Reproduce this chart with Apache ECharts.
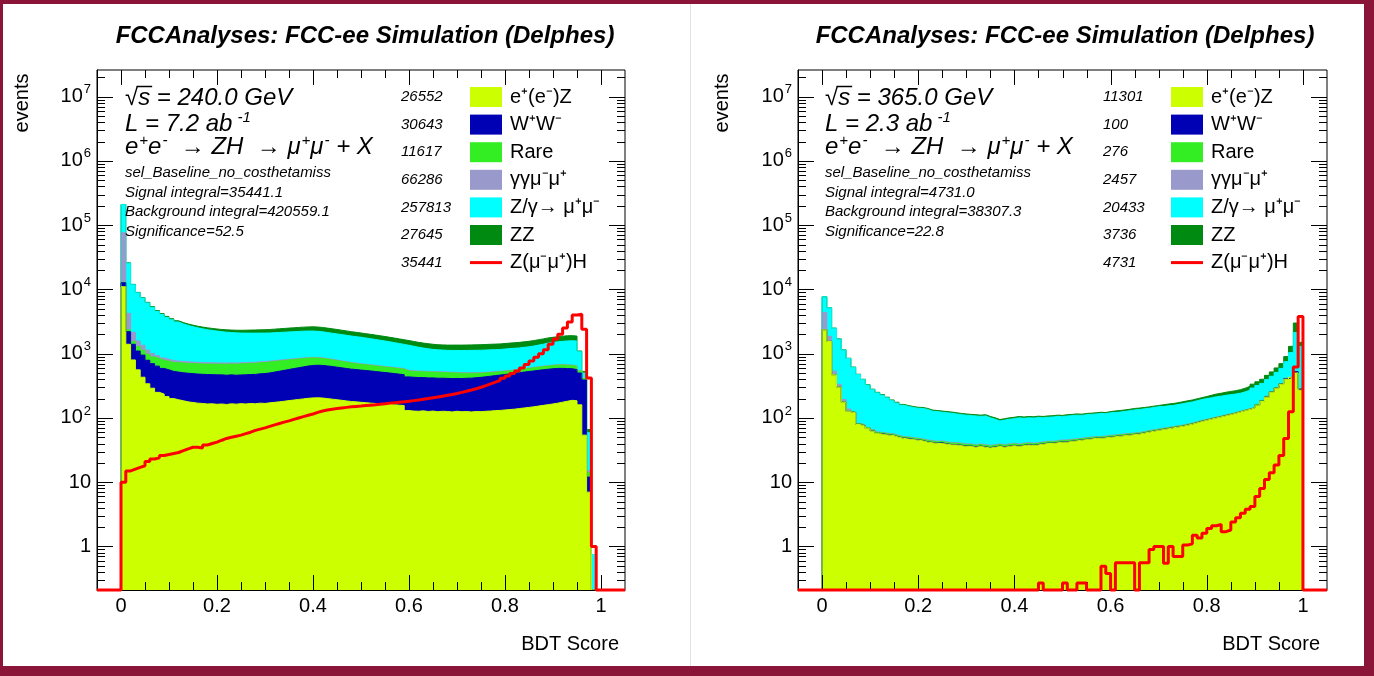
<!DOCTYPE html>
<html>
<head>
<meta charset="utf-8">
<title>BDT score</title>
<script src="https://cdn.jsdelivr.net/npm/echarts@6/dist/echarts.min.js"></script>
<style>
  html, body { margin: 0; padding: 0; background: #8a1538; }
  #sheet { position: absolute; left: 3px; top: 4px; width: 1361px; height: 662px; background: #fff; }
  #divider { position: absolute; left: 690px; top: 4px; width: 1px; height: 662px; background: #e2e2e2; }
  #chart { position: absolute; left: 0; top: 0; width: 1374px; height: 676px; }
</style>
</head>
<body>
<div id="sheet"></div>
<div id="divider"></div>
<div id="chart"></div>
<script>
// 100 bins of 0.01 on [0,1]
var BIN_LO = 0, BIN_W = 0.01;
var X_MIN = -0.05, X_MAX = 1.05;
var Y_MIN = 0.21, Y_MAX = 2.6e7;

var xTicks = [0, 0.2, 0.4, 0.6, 0.8, 1];
var xMinorTicks = [0.05, 0.1, 0.15, 0.25, 0.3, 0.35, 0.45, 0.5, 0.55, 0.65, 0.7, 0.75, 0.85, 0.9, 0.95];
var yTicks = [1, 10, 100, 1000, 1e4, 1e5, 1e6, 1e7];

var procNames = ['e⁺(e⁻)Z', 'W⁺W⁻', 'Rare', 'γγμ⁻μ⁺', 'Z/γ→ μ⁺μ⁻', 'ZZ', 'Z(μ⁻μ⁺)H'];
var procColors = ['#ccff00', '#0000b4', '#33ee22', '#9999cc', '#00ffff', '#008a12', '#ff0000'];

var yieldsL = [26552, 30643, 11617, 66286, 257813, 27645, 35441];
var yieldsR = [11301, 100, 276, 2457, 20433, 3736, 4731];

// rich text: {n|...} normal, {s|...} superscript
var infoL = ['{n|√s = 240.0 GeV}', '{n|L = 7.2 ab}{s| -1}', '{n|e}{s|+}{n|e}{s|-}{n|  → ZH  → μ}{s|+}{n|μ}{s|-}{n| + X}'];
var infoR = ['{n|√s = 365.0 GeV}', '{n|L = 2.3 ab}{s| -1}', '{n|e}{s|+}{n|e}{s|-}{n|  → ZH  → μ}{s|+}{n|μ}{s|-}{n| + X}'];
var statsL = ['sel_Baseline_no_costhetamiss', 'Signal integral=35441.1', 'Background integral=420559.1', 'Significance=52.5'];
var statsR = ['sel_Baseline_no_costhetamiss', 'Signal integral=4731.0', 'Background integral=38307.3', 'Significance=22.8'];

// ---- 240 GeV ----
var eezL = [11000,1400,800,560,430,340,290,250,235,215,
  200,192,185,178,174,170,168,165,166,163,
  165,162,166,164,167,165,168,166,170,168,
  172,175,178,182,186,190,194,198,202,205,
  206,204,200,196,192,188,184,180,178,175,
  173,170,168,166,164,162,160,158,156,130,
  128,127,129,126,128,125,127,126,124,127,
  125,126,124,126,125,127,128,130,131,133,
  135,137,140,143,146,149,153,157,161,165,
  170,176,182,188,185,160,54,7,0,0];
var wwL = [1700,800,600,540,520,450,410,390,355,345,
  330,325,320,318,315,312,310,308,306,305,
  303,300,302,298,300,304,306,310,316,322,
  330,342,355,368,382,396,410,425,440,450,
  455,452,445,436,425,414,404,395,388,380,
  375,368,360,352,345,338,330,322,315,305,
  302,298,296,294,292,290,288,287,286,285,
  285,288,292,297,303,310,318,326,334,342,
  350,358,366,374,382,390,398,405,412,418,
  420,415,405,395,380,340,336,5,0,0];
var rareL = [200,150,150,180,180,190,190,200,200,200,
  200,205,210,210,212,214,215,216,218,218,
  220,222,224,225,228,230,232,234,236,238,
  240,240,238,235,232,228,222,216,210,204,
  196,188,180,172,164,156,148,140,134,128,
  124,120,118,115,112,110,108,106,104,102,
  100,100,99,98,98,97,96,94,92,90,
  86,82,78,74,70,66,62,60,58,56,
  56,57,58,60,62,64,66,68,70,72,
  74,75,75,74,72,40,20,2,0,0];
var ggmmL = [63000,1900,600,300,220,160,120,90,70,60,
  50,45,42,40,38,36,35,34,33,32,
  31,30,29,28,28,27,26,25,25,24,
  24,23,22,22,21,21,20,20,19,19,
  19,18,18,17,17,16,16,16,15,15,
  15,14,14,14,13,13,13,13,12,12,
  12,12,12,12,11,11,11,11,11,11,
  11,11,11,11,11,11,11,11,10,10,
  10,10,10,10,10,10,10,10,10,10,
  10,10,10,10,10,10,5,1,0,0];
var zgL = [132600,21500,9670,7270,6000,5020,4260,3640,3210,2850,
  2590,2350,2150,2010,1890,1790,1710,1640,1580,1530,
  1480,1450,1410,1395,1370,1365,1358,1355,1343,1338,
  1334,1340,1347,1353,1359,1365,1374,1381,1379,1372,
  1349,1328,1292,1259,1232,1206,1178,1149,1125,1102,
  1068,1038,1005,973,941,907,874,841,808,801,
  763,723,686,664,637,625,616,608,611,609,
  613,616,621,621,623,626,629,629,631,641,
  649,653,656,668,680,702,733,765,807,830,
  856,879,908,923,923,520,85,44,0.75,0];
var zzL = [1500,250,180,150,150,140,130,130,130,130,
  130,135,140,145,150,155,160,165,170,175,
  180,190,200,210,220,230,240,250,260,270,
  280,290,300,310,320,330,340,350,360,370,
  375,370,365,360,350,340,330,320,310,300,
  295,290,285,280,275,270,265,260,255,250,
  245,240,238,236,234,232,232,234,236,238,
  240,242,244,246,248,250,252,254,256,258,
  260,265,270,275,280,285,290,295,300,305,
  310,315,320,320,310,30,30,7,0,0];
var sigL = [10,15,16,17,18,21,23,24,26,27,
  28,29,31,33,35,35,34,38,40,42,
  45,48,50,52,54,57,60,64,67,70,
  74,78,82,86,90,95,100,105,110,115,
  122,128,133,137,140,143,146,149,151,153,
  156,158,160,163,166,170,173,176,179,182,
  186,190,195,200,206,212,218,225,232,240,
  250,260,272,285,300,318,338,360,385,415,
  450,490,540,600,680,770,880,1000,1150,1400,
  1700,2000,2500,3100,4000,4100,2400,420,1,0];

// ---- 365 GeV ----
var eezR = [2350,1550,470,300,175,125,120,79,74,68,
  62,57,55,54,53,50,48,47,46,45,
  44,42,41,40,40,39,38,38,37,36,
  36,35,36,35,34,35,36,35,36,37,
  36,37,38,37,38,39,40,40,41,42,
  42,43,44,45,46,47,48,48,49,50,
  51,52,53,54,55,56,58,60,62,64,
  66,68,70,72,74,77,80,84,88,92,
  96,100,104,108,113,118,124,130,136,143,
  155,180,210,250,290,330,400,430,500,270];
var wwR = [5,3,1,1,0.5,1,0.5,0.5,1,0.5,
  0.5,0.5,1,0.5,0.5,0.5,0.5,1,0.5,0.5,
  0.5,0.5,0.5,0.5,1,0.5,0.5,0.5,0.5,0.5,
  0.5,0.5,0.5,0.5,0.5,0.5,0.5,0.5,0.5,0.5,
  0.5,0.5,0.5,0.5,0.5,0.5,0.5,0.5,0.5,0.5,
  0.5,0.5,0.5,0.5,0.5,0.5,0.5,0.5,0.5,0.5,
  0.5,0.5,0.5,0.5,0.5,0.5,0.5,0.5,0.5,0.5,
  0.5,0.5,0.5,0.5,0.5,0.5,0.5,0.5,1,0.5,
  0.5,0.5,0.5,1,0.5,0.5,0.5,0.5,0.5,0.5,
  2,2,2,2,2,5,8,5,25,10];
var rareR = [20,10,4,3,3,2,2,2,2,2,
  2,2,2,2,2,2,2,2,2,2,
  2,2,2,2,2,2,2,2,2,2,
  2,2,2,2,2,2,2,2,2,2,
  2,2,2,2,2,2,2,2,2,2,
  2,2,2,2,2,2,2,2,2,2,
  2,2,2,2,2,2,2,2,2,2,
  2,2,2,2,2,2,2,2,2,2,
  2,2,2,2,2,2,2,2,2,2,
  5,5,5,5,5,5,5,5,5,5];
var ggmmR = [2000,300,60,30,15,10,1,1,1,1,
  1,1,1,1,1,1,1,1,1,1,
  1,1,1,1,1,1,1,1,1,1,
  1,1,1,1,1,1,1,1,1,1,
  1,1,1,1,1,1,1,1,1,1,
  1,1,1,1,1,1,1,1,1,1,
  1,1,1,1,1,1,1,1,1,1,
  1,1,1,1,1,1,1,1,1,1,
  1,1,1,1,1,1,1,1,1,1,
  1,1,1,1,1,1,1,1,1,1];
var zgR = [3295,3317,1952,1355,947,704,489,391,316,253,
  210,185,167,148,129,117,106,100,96,93,
  93,90,83,82,79,78,77,74,72,71,
  69,69,66,69,63,57,50,54,56,57,
  61,58,59,59,60,58,59,60,61,59,
  62,62,63,61,63,63,64,66,64,67,
  67,68,70,72,75,76,77,78,80,82,
  81,83,83,86,89,92,94,98,101,105,
  106,110,111,113,114,114,115,121,131,145,
  157,157,177,187,212,249,336,599,1599,1014];
var zzR = [30,20,15,12,10,8,7,6,6,5,
  5,5,5,5,5,5,5,5,5,5,
  5,5,5,5,5,5,5,5,5,5,
  5,5,5,5,5,5,5,5,5,5,
  5,5,5,5,5,5,5,5,5,5,
  5,5,5,5,5,5,5,5,5,5,
  7,7,7,7,7,7,7,7,7,7,
  10,10,11,11,12,12,13,13,14,15,
  20,22,24,26,28,30,33,36,40,44,
  45,55,65,75,90,110,150,260,870,200];
var sigR = [0,0,0,0,0,0,0,0,0,0,
  0,0,0,0,0,0,0,0,0,0,
  0,0,0,0,0,0,0,0,0,0,
  0,0,0,0,0,0,0,0,0,0,
  0,0,0,0,0,0.27,0,0,0,0,
  0.27,0,0,0.27,0.27,0,0,0,0.49,0.38,
  0,0.56,0.56,0.56,0.56,0,0.56,0.56,0.9,1.0,
  1.0,0.55,1.0,0.7,0.7,1.05,1.1,1.5,1.35,1.6,
  1.9,2.1,2.2,1.7,1.8,2.4,2.8,3.3,3.8,4.2,
  6,8,11,14,18.5,26,48,125,620,3800];

var FONT = '"Liberation Sans", Arial, Helvetica, sans-serif';

var yMinorTicks = [];
[0.1].concat(yTicks).forEach(function (d) {
  for (var k = 2; k <= 9; k++) {
    var v = d * k;
    if (v > Y_MIN && v < Y_MAX) yMinorTicks.push(v);
  }
});

// histogram outline as step points, empty bins sit on the frame floor
function stepPoints(vals) {
  var pts = [[X_MIN, Y_MIN]];
  for (var i = 0; i < vals.length; i++) {
    pts.push([BIN_LO + i * BIN_W, Math.max(vals[i], Y_MIN)]);
  }
  pts.push([BIN_LO + vals.length * BIN_W, Y_MIN]);
  pts.push([X_MAX, Y_MIN]);
  return pts;
}

// ROOT style ticks: inward, on all four sides.  [dir(0=x,1=y), value, length, side(0=bottom/left,1=top/right)]
var tickRows = [];
[0, 1].forEach(function (side) {
  xTicks.forEach(function (v) { tickRows.push([0, v, 15, side]); });
  xMinorTicks.forEach(function (v) { tickRows.push([0, v, 8, side]); });
  yTicks.forEach(function (v) { tickRows.push([1, v, 16, side]); });
  yMinorTicks.forEach(function (v) { tickRows.push([1, v, 8, side]); });
});

function renderTick(params, api) {
  var dir = api.value(0), v = api.value(1), len = api.value(2), side = api.value(3);
  var x1, y1, x2, y2, p;
  if (dir === 0) {
    p = api.coord([v, side ? Y_MAX : Y_MIN]);
    x1 = x2 = Math.round(p[0]) + 0.5;
    y1 = p[1];
    y2 = side ? p[1] + len : p[1] - len;
  } else {
    p = api.coord([side ? X_MAX : X_MIN, v]);
    y1 = y2 = Math.round(p[1]) + 0.5;
    x1 = p[0];
    x2 = side ? p[0] - len : p[0] + len;
  }
  return { type: 'line', shape: { x1: x1, y1: y1, x2: x2, y2: y2 }, style: { stroke: '#000', lineWidth: 1 } };
}

function buildSeries(g, bkg, sig) {
  var cum = [];
  var run = bkg[0].map(function () { return 0; });
  for (var j = 0; j < bkg.length; j++) {
    run = run.map(function (v, i) { return v + bkg[j][i]; });
    cum.push(run);
  }
  var out = [];
  // THStack style: draw the running totals from the top layer down
  for (var j = bkg.length - 1; j >= 0; j--) {
    out.push({
      type: 'line', name: procNames[j], xAxisIndex: g, yAxisIndex: g,
      data: stepPoints(cum[j]), step: 'end', symbol: 'none', showSymbol: false,
      lineStyle: { color: procColors[j], width: 1 },
      itemStyle: { color: procColors[j] },
      areaStyle: { color: procColors[j], opacity: 1, origin: 'start' },
      z: 2, silent: true, animation: false
    });
  }
  out.push({
    type: 'custom', name: 'ticks', xAxisIndex: g, yAxisIndex: g,
    data: tickRows, renderItem: renderTick, clip: false, silent: true, z: 15, animation: false
  });
  out.push({
    type: 'line', name: procNames[6], xAxisIndex: g, yAxisIndex: g,
    data: stepPoints(sig), step: 'end', symbol: 'none', showSymbol: false,
    lineStyle: { color: procColors[6], width: 3 },
    itemStyle: { color: procColors[6] },
    z: 20, clip: false, silent: true, animation: false
  });
  return out;
}

function yLabel(v) {
  var e = Math.round(Math.log10(v));
  if (e === 0) return '{b|1}';
  if (e === 1) return '{b|10}';
  return '{b|10}{s|' + e + '}';
}

function xAxisFor(g) {
  return {
    gridIndex: g, type: 'value', min: X_MIN, max: X_MAX, position: 'bottom', z: 10,
    splitLine: { show: false },
    axisLine: { show: true, onZero: false, lineStyle: { color: '#000', width: 1 } },
    axisTick: { show: false },
    axisLabel: { show: true, customValues: xTicks, formatter: function (v) { return String(v); },
      fontSize: 20, fontFamily: FONT, color: '#000', margin: 6 }
  };
}

function yAxisFor(g) {
  return {
    gridIndex: g, type: 'log', logBase: 10, min: Y_MIN, max: Y_MAX, position: 'left', z: 10,
    splitLine: { show: false },
    axisLine: { show: true, onZero: false, lineStyle: { color: '#000', width: 1 } },
    axisTick: { show: false },
    axisLabel: { show: true, customValues: yTicks, formatter: yLabel, margin: 6,
      rich: {
        b: { fontSize: 20, fontFamily: FONT, color: '#000' },
        s: { fontSize: 13, fontFamily: FONT, color: '#000', padding: [0, 0, 14, 1] }
      } }
  };
}

function legendFor(left) {
  return {
    left: left, top: 87, orient: 'vertical', itemWidth: 32, itemHeight: 20, itemGap: 7.6,
    selectedMode: false, padding: 0,
    itemStyle: { borderWidth: 0 },
    textStyle: { fontSize: 20, fontFamily: FONT, color: '#000', padding: [0, 0, 0, 3] },
    data: procNames.map(function (n, i) {
      return { name: n, icon: i === 6 ? 'path://M0,0H32V3H0Z' : 'rect' };
    })
  };
}

var INFO_RICH = {
  n: { font: 'italic 24px ' + FONT, fill: '#000' },
  s: { font: 'italic 15px ' + FONT, fill: '#000', padding: [0, 0, 13, 1] }
};

function txt(x, y, text, font, align, rot, rich) {
  var st = { text: text, font: font, fill: '#000',
    textAlign: align || 'left', textVerticalAlign: 'middle',
    align: align || 'left', verticalAlign: 'middle' };
  if (rich) st.rich = rich;
  return { type: 'text', x: x, y: y, rotation: rot || 0, silent: true, z: 30, style: st };
}

// overbar of the square root sign, placed from the measured glyph widths
var measureCtx = document.createElement('canvas').getContext('2d');
measureCtx.font = 'italic 24px ' + FONT;
var RAD_W = measureCtx.measureText('√').width;
var S_W = measureCtx.measureText('s').width;

function panelTexts(p) {
  var g = [];
  g.push(txt(p.titleX, 36, 'FCCAnalyses: FCC-ee Simulation (Delphes)', 'italic bold 24px ' + FONT, 'center'));
  g.push(txt(p.evX, 103, 'events', '20px ' + FONT, 'center', Math.PI / 2));
  g.push(txt(p.xtX, 644, 'BDT Score', '20px ' + FONT, 'right'));
  var bigY = [98, 124, 147];
  p.info.forEach(function (t, i) { g.push(txt(p.infoX, bigY[i], t, 'italic 24px ' + FONT, 'left', 0, INFO_RICH)); });
  g.push({ type: 'line', silent: true, z: 30,
    shape: { x1: p.infoX + RAD_W - 1.5, y1: 86.5, x2: p.infoX + RAD_W + S_W + 2, y2: 86.5 },
    style: { stroke: '#000', lineWidth: 1.5 } });
  var smallY = [173, 193, 212, 232];
  p.stats.forEach(function (t, i) { g.push(txt(p.infoX, smallY[i], t, 'italic 15px ' + FONT)); });
  p.yields.forEach(function (v, i) { g.push(txt(p.numX, 97 + 27.6 * i, String(v), 'italic 15px ' + FONT)); });
  return g;
}

var graphics = panelTexts({ titleX: 365, evX: 22, xtX: 619, infoX: 125, numX: 401, info: infoL, stats: statsL, yields: yieldsL })
  .concat(panelTexts({ titleX: 1065, evX: 722, xtX: 1320, infoX: 825, numX: 1103, info: infoR, stats: statsR, yields: yieldsR }));

var chart = echarts.init(document.getElementById('chart'), null, { renderer: 'canvas' });
chart.setOption({
  animation: false,
  backgroundColor: 'transparent',
  grid: [
    { left: 97, top: 70, width: 528, height: 520, show: true, borderColor: '#000', borderWidth: 1,
      backgroundColor: 'transparent', containLabel: false, outerBoundsMode: 'none' },
    { left: 798, top: 70, width: 529, height: 520, show: true, borderColor: '#000', borderWidth: 1,
      backgroundColor: 'transparent', containLabel: false, outerBoundsMode: 'none' }
  ],
  xAxis: [xAxisFor(0), xAxisFor(1)],
  yAxis: [yAxisFor(0), yAxisFor(1)],
  legend: [legendFor(470), legendFor(1171)],
  graphic: { elements: graphics },
  series: buildSeries(0, [eezL, wwL, rareL, ggmmL, zgL, zzL], sigL)
    .concat(buildSeries(1, [eezR, wwR, rareR, ggmmR, zgR, zzR], sigR))
});
window.addEventListener('resize', function () { chart.resize(); });
</script>
</body>
</html>
